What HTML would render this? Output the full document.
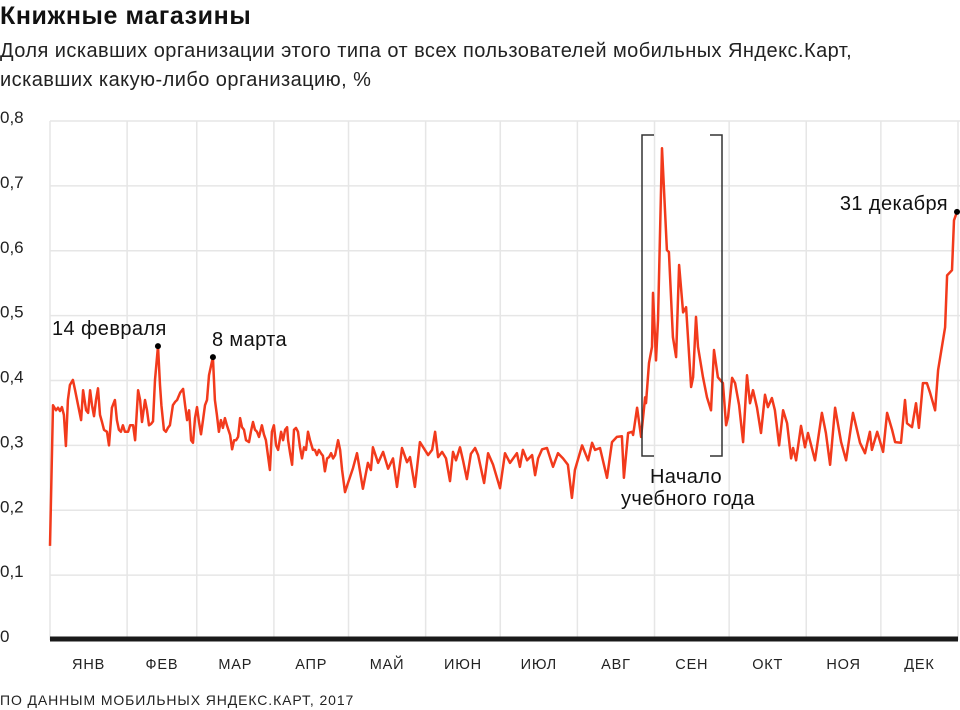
<!DOCTYPE html>
<html><head><meta charset="utf-8"><style>
body{margin:0;width:960px;height:710px;background:#fff;overflow:hidden;font-family:"Liberation Sans","DejaVu Sans",sans-serif;}
svg{position:absolute;left:0;top:0}
</style></head><body>
<svg id="c" width="960" height="710">
<text x="0" y="24" font-size="25" font-weight="bold" letter-spacing="0.6" fill="#111">Книжные магазины</text>
<text x="0" y="57" font-size="20" letter-spacing="0.45" fill="#222">Доля искавших организации этого типа от всех пользователей мобильных Яндекс.Карт,</text>
<text x="0" y="86" font-size="20" letter-spacing="0.45" fill="#222">искавших какую-либо организацию, %</text>
<text x="0" y="705" font-size="14" fill="#222" letter-spacing="0.9">ПО ДАННЫМ МОБИЛЬНЫХ ЯНДЕКС.КАРТ, 2017</text>
<g id="grid"></g><g id="ylab"></g><g id="xlab"></g><g id="plot"></g><g id="ann"></g>
</svg>
<script>
const yTicks=[0,0.1,0.2,0.3,0.4,0.5,0.6,0.7,0.8];
const yTickLabels=["0","0,1","0,2","0,3","0,4","0,5","0,6","0,7","0,8"];
const months=["ЯНВ","ФЕВ","МАР","АПР","МАЙ","ИЮН","ИЮЛ","АВГ","СЕН","ОКТ","НОЯ","ДЕК"];
const monthStarts=[0,31,59,90,120,151,181,212,243,273,304,334,365];
const days=[0,1.2,2.4,3.2,4.0,4.8,5.6,6.4,7.2,8.0,9.2,10.1,11.3,12.5,13.3,14.5,15.3,16.1,16.9,17.7,18.5,19.3,20.1,20.9,21.7,22.9,23.7,24.9,26.1,26.9,27.7,28.5,29.3,30.1,31.4,32.2,33.4,34.2,35.4,36.2,37.0,38.2,39.0,39.8,40.6,41.4,42.2,43.4,44.2,44.8,45.8,46.6,47.4,48.2,49.4,50.3,51.1,52.3,53.5,54.3,55.1,55.9,56.7,57.5,58.3,59.1,59.9,60.7,61.5,62.3,63.1,63.9,65.5,66.3,67.1,67.9,68.7,69.5,70.3,71.1,72.4,73.2,74.0,74.8,75.6,76.4,77.2,78.0,78.8,80.0,80.8,81.6,82.4,83.2,84.0,85.2,86.0,86.8,87.6,88.4,89.2,90.0,90.9,91.7,92.9,93.7,94.5,95.3,95.7,96.5,97.3,98.1,98.9,99.7,100.5,101.3,102.1,102.9,103.7,104.5,105.7,106.5,107.3,108.1,108.9,109.7,110.5,111.4,112.2,113.0,113.8,114.6,115.8,116.6,117.4,118.6,119.8,121.8,123.4,125.8,127.8,129.0,129.8,131.9,133.9,135.9,137.9,139.5,141.5,143.5,144.7,146.7,148.7,152.0,153.6,154.8,156.0,157.6,159.2,160.8,162.0,163.2,164.8,166.0,167.6,169.2,170.9,172.1,174.5,176.1,178.1,180.9,182.9,184.9,187.7,188.9,190.1,191.8,193.8,195.0,196.2,197.8,199.8,202.2,204.2,206.2,208.2,209.8,211.0,213.9,216.3,217.9,219.1,221.1,223.9,225.9,227.9,229.9,230.7,232.4,234.0,234.4,236.0,237.6,239.2,239.6,240.8,242.0,242.4,243.6,244.4,246.0,248.0,248.8,250.4,251.7,252.9,254.5,255.7,257.7,258.5,259.7,260.5,262.5,264.1,265.7,266.9,268.5,270.5,271.8,272.6,274.2,275.4,277.0,278.6,280.2,281.4,282.6,284.2,285.8,287.4,288.6,290.2,291.4,293.1,294.7,296.3,297.9,298.7,299.9,301.9,303.5,304.7,307.5,310.3,311.9,313.6,315.6,318.0,320.0,322.8,325.6,327.6,329.6,330.4,332.5,334.9,336.5,338.5,339.7,342.1,343.7,344.5,346.5,348.1,349.3,350.9,352.5,353.8,355.8,357.0,359.8,360.6,362.6,363.4,364.6];
const values=[.145,.362,.354,.358,.353,.359,.347,.299,.370,.393,.401,.385,.362,.339,.385,.354,.350,.385,.362,.345,.370,.388,.347,.336,.324,.321,.300,.358,.370,.339,.324,.321,.331,.321,.321,.331,.331,.308,.385,.370,.336,.370,.354,.331,.333,.337,.401,.453,.393,.362,.324,.321,.327,.331,.362,.367,.370,.381,.387,.362,.339,.354,.308,.304,.342,.359,.336,.317,.339,.362,.370,.408,.436,.370,.347,.321,.339,.327,.342,.331,.316,.294,.308,.308,.313,.342,.328,.324,.308,.305,.322,.336,.324,.321,.313,.331,.317,.308,.285,.262,.321,.331,.300,.293,.321,.308,.324,.328,.308,.288,.270,.324,.327,.321,.297,.280,.297,.293,.321,.308,.293,.293,.285,.293,.288,.284,.260,.280,.282,.288,.280,.285,.308,.293,.262,.228,.242,.265,.288,.233,.273,.262,.297,.273,.290,.264,.280,.236,.296,.274,.282,.236,.305,.285,.293,.321,.282,.290,.280,.245,.290,.277,.297,.277,.248,.287,.296,.285,.242,.288,.270,.234,.288,.273,.288,.267,.293,.277,.285,.254,.280,.294,.296,.267,.288,.280,.270,.219,.262,.300,.277,.304,.293,.296,.250,.305,.313,.314,.250,.319,.321,.316,.358,.313,.374,.365,.427,.452,.535,.431,.493,.758,.601,.598,.467,.436,.578,.505,.513,.390,.405,.498,.452,.405,.374,.354,.447,.405,.396,.331,.344,.404,.396,.362,.305,.408,.365,.385,.358,.319,.378,.359,.373,.354,.300,.354,.334,.280,.296,.277,.330,.297,.319,.277,.350,.319,.270,.358,.305,.277,.350,.304,.288,.321,.293,.321,.290,.350,.324,.305,.304,.370,.334,.328,.365,.327,.396,.396,.381,.354,.416,.482,.562,.570,.647,.660];
const annDays=[43.4,65.5,364.6];
const annValues=[.453,.436,.660];
const annLabels=["14 февраля","8 марта","31 декабря"];

const NS="http://www.w3.org/2000/svg";
const X0=50,X1=958,Y0=640,Y1=121;
const xs=d=>X0+d*(X1-X0)/365;
const ys=v=>Y0-v*(Y0-Y1)/0.8;
function mk(tag,attrs,parent,txt){const e=document.createElementNS(NS,tag);for(const k in attrs)e.setAttribute(k,attrs[k]);if(txt!==undefined)e.textContent=txt;document.getElementById(parent).appendChild(e);return e;}

yTicks.forEach((t,i)=>{
  if(i>0){const l=mk('line',{x1:X0,x2:960,y1:ys(t),y2:ys(t),stroke:'#e6e6e6','stroke-width':1.5},'grid');
  
  }
  const tx=mk('text',{x:0,y:ys(t)+2,'font-size':17,fill:'#222'},'ylab',yTickLabels[i]);
  
  
});
monthStarts.forEach((d,i)=>{
  const l=mk('line',{x1:xs(d),x2:xs(d),y1:Y1,y2:Y0,stroke:'#e6e6e6','stroke-width':1.5},'grid');
  
  
  if(i<months.length){
    const t=mk('text',{x:(xs(d)+xs(monthStarts[i+1]))/2,y:669,'font-size':14.5,'text-anchor':'middle',fill:'#222','letter-spacing':0.8},'xlab',months[i]);
    
    
  }
});
const base=mk('line',{x1:X0,x2:X1,y1:639,y2:639,stroke:'#1a1a1a','stroke-width':5},'plot');


const p=mk('path',{d:days.map((d,i)=>(i?'L':'M')+xs(d).toFixed(1)+','+ys(values[i]).toFixed(1)).join(''),fill:'none',stroke:'#f23a1c','stroke-width':2.5,'stroke-linejoin':'round'},'plot');



annDays.forEach((d,i)=>{
  const c=mk('circle',{cx:xs(d),cy:ys(annValues[i]),r:3,fill:'#000'},'ann');
  
  
  const last=i===annDays.length-1;
  const t=mk('text',{x:last?xs(d)-9:xs(d)+(i===0?-106:-1),y:ys(annValues[i])-11,'font-size':20,'letter-spacing':0.4,fill:'#111','text-anchor':last?'end':'start'},'ann',annLabels[i]);
  if(last)t.setAttribute('y',ys(annValues[i])-2);
  
  
});
const b1=mk('path',{d:'M654,135H642V456H654',fill:'none',stroke:'#333','stroke-width':1.5},'ann');


const b2=mk('path',{d:'M710,135H722V456H710',fill:'none',stroke:'#333','stroke-width':1.5},'ann');


const s1=mk('text',{x:686,y:483,'font-size':20,'letter-spacing':0.4,'text-anchor':'middle',fill:'#111'},'ann','Начало');


const s2=mk('text',{x:688,y:505,'font-size':20,'letter-spacing':0.4,'text-anchor':'middle',fill:'#111'},'ann','учебного года');


</script>
</body></html>
